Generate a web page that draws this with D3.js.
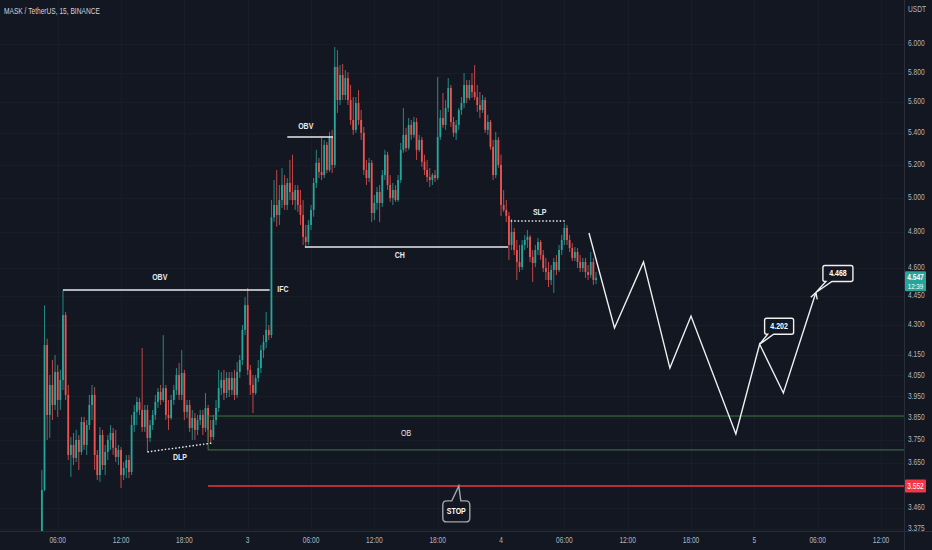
<!DOCTYPE html>
<html>
<head>
<meta charset="utf-8">
<script src="https://cdn.jsdelivr.net/npm/d3@7"></script>
<style>
    body { margin: 0; background: #131722; }
    svg { display: block; }
    text { font-family: "Liberation Sans", Arial, sans-serif; }
</style>
</head>
<body>
<svg id="chartSVG" width="932" height="550"></svg>
<script>
/* ---------- Data (15 minute candles, [open, high, low, close]) ---------- */
// day 2, from 04:30
const day2Candles = [
    [3.35,3.62,3.30,3.535],[3.535,4.40,3.53,4.198],[4.198,4.23,3.751,3.864],[3.864,4.052,3.76,4.004],
    [4.004,4.124,3.841,3.910],[3.910,4.149,3.887,4.066],[4.066,4.100,3.855,3.933],[3.933,4.076,3.887,4.028],
    [4.028,4.481,3.980,4.350],[4.350,4.366,3.933,3.957],[3.957,4.004,3.663,3.685],[3.685,3.764,3.590,3.729],
    [3.729,3.782,3.641,3.672],[3.672,3.796,3.654,3.751],[3.751,3.773,3.620,3.698],[3.698,3.855,3.685,3.832],
    [3.832,3.855,3.707,3.729],[3.729,3.841,3.685,3.818],[3.818,3.957,3.796,3.910],[3.910,4.004,3.841,3.957],
    [3.957,3.994,3.620,3.685],[3.685,3.707,3.577,3.598],[3.598,3.809,3.569,3.773],[3.773,3.796,3.620,3.641],
    [3.641,3.729,3.598,3.698],[3.698,3.773,3.663,3.751],[3.751,3.818,3.707,3.782],[3.782,3.805,3.685,3.716],
    [3.716,3.796,3.654,3.676],[3.676,3.729,3.641,3.707],[3.707,3.720,3.543,3.598],[3.598,3.654,3.577,3.628],
    [3.628,3.685,3.585,3.663],[3.663,3.685,3.585,3.611],[3.611,3.864,3.598,3.818],[3.818,3.910,3.787,3.878],
    [3.878,3.947,3.818,3.924],[3.924,3.943,3.864,3.887],[3.887,4.183,3.787,3.809],[3.809,3.910,3.787,3.887],
    [3.887,3.910,3.698,3.760],[3.760,3.841,3.742,3.818],[3.818,3.887,3.796,3.864],[3.864,3.957,3.841,3.924],
    [3.924,3.989,3.896,3.971],[3.971,4.004,3.910,3.933],[3.933,4.248,3.924,3.989],[3.989,4.004,3.841,3.864],
    [3.864,3.933,3.796,3.850],[3.850,3.957,3.841,3.933],[3.933,4.004,3.910,3.980],[3.980,4.085,3.957,4.052],
    [4.052,4.110,3.933,3.957],[3.957,4.173,3.933,4.061],[4.061,4.076,3.841,3.878],[3.878,3.933,3.850,3.910],
    [3.910,3.933,3.787,3.805],[3.805,3.887,3.751,3.850],[3.850,3.873,3.751,3.796],[3.796,3.864,3.773,3.841],
    [3.841,3.887,3.818,3.864],[3.864,3.887,3.773,3.805],[3.805,3.966,3.787,3.896],[3.896,3.910,3.742,3.796],
    [3.796,3.841,3.738,3.764],[3.764,3.864,3.751,3.841],[3.841,3.933,3.818,3.896],[3.896,4.076,3.878,3.989],
    [3.989,4.066,3.957,4.028],[4.028,4.076,3.933,3.966],[3.966,4.066,3.943,4.037],[4.037,4.066,3.947,3.980],
    [3.980,4.066,3.957,4.037],[4.037,4.076,3.933,3.957],[3.957,4.114,3.943,4.066],[4.066,4.149,4.037,4.124],
    [4.124,4.299,4.100,4.274],[4.274,4.444,4.248,4.402]
];
// day 3, from 00:00
const day3Candles = [
    [4.402,4.492,4.052,4.076],[4.076,4.100,3.957,4.004],[4.004,4.052,3.873,3.966],[3.966,4.052,3.957,4.037],
    [4.037,4.124,4.018,4.085],[4.085,4.198,4.061,4.173],[4.173,4.248,4.134,4.213],[4.213,4.366,4.183,4.274],
    [4.274,4.299,4.223,4.248],[4.248,4.986,4.233,4.884],[4.884,5.106,4.859,4.957],[4.957,5.167,4.831,4.898],
    [4.898,5.076,4.841,4.986],[4.986,5.179,4.940,5.076],[5.076,5.136,4.928,4.957],[4.957,5.118,4.928,5.088],
    [5.088,5.229,4.986,5.034],[5.034,5.261,4.957,4.986],[4.986,5.076,4.928,5.046],[5.046,5.076,4.916,4.957],
    [4.957,5.046,4.841,4.898],[4.898,4.986,4.727,4.773],[4.773,4.841,4.716,4.744],[4.744,4.869,4.727,4.841],
    [4.841,4.957,4.812,4.928],[4.928,5.118,4.888,5.088],[5.088,5.292,5.058,5.211],[5.211,5.242,5.118,5.155],
    [5.155,5.374,5.106,5.136],[5.136,5.355,5.118,5.323],[5.323,5.342,5.148,5.167],[5.167,5.406,5.155,5.374],
    [5.374,5.419,5.148,5.198],[5.198,5.979,5.180,5.839],[5.839,5.957,5.529,5.614],[5.614,5.852,5.581,5.783],
    [5.783,5.859,5.614,5.648],[5.648,5.817,5.614,5.762],[5.762,5.803,5.581,5.614],[5.614,5.715,5.451,5.483],
    [5.483,5.634,5.387,5.419],[5.419,5.634,5.400,5.594],[5.594,5.681,5.451,5.483],[5.483,5.548,5.355,5.400],
    [5.400,5.438,5.136,5.167],[5.167,5.229,5.076,5.118],[5.118,5.242,5.094,5.211],[5.211,5.229,4.857,4.910],
    [4.910,5.016,4.869,4.969],[4.969,5.064,4.928,5.034],[5.034,5.076,4.857,4.969],[4.969,5.167,4.946,5.136],
    [5.136,5.292,5.106,5.261],[5.261,5.280,5.046,5.076],[5.076,5.136,4.975,4.998],[4.998,5.088,4.957,5.046],
    [5.046,5.076,4.975,4.986],[4.986,5.136,4.975,5.106],[5.106,5.336,5.088,5.292],[5.292,5.561,5.273,5.387],
    [5.387,5.432,5.280,5.304],[5.304,5.496,5.292,5.451],[5.451,5.483,5.355,5.387],[5.387,5.503,5.368,5.470],
    [5.470,5.496,5.229,5.292],[5.292,5.387,5.280,5.355],[5.355,5.374,5.186,5.217],[5.217,5.261,5.136,5.167],
    [5.167,5.229,5.094,5.124],[5.124,5.179,5.064,5.106],[5.106,5.148,5.076,5.136],[5.136,5.167,5.094,5.118],
    [5.118,5.770,5.106,5.374],[5.374,5.548,5.355,5.496],[5.496,5.661,5.432,5.451],[5.451,5.614,5.419,5.561],
    [5.561,5.762,5.535,5.695],[5.695,5.715,5.438,5.470],[5.470,5.503,5.374,5.400],[5.400,5.483,5.355,5.451],
    [5.451,5.561,5.419,5.548],[5.548,5.634,5.516,5.594],[5.594,5.797,5.561,5.715],[5.715,5.749,5.594,5.628],
    [5.628,5.749,5.614,5.715],[5.715,5.797,5.628,5.668],[5.668,5.852,5.614,5.634],[5.634,5.715,5.535,5.581],
    [5.581,5.668,5.496,5.548],[5.548,5.648,5.529,5.614],[5.614,5.634,5.400,5.419],[5.419,5.516,5.387,5.470],
    [5.470,5.483,5.292,5.311],[5.311,5.355,5.106,5.136],[5.136,5.406,5.118,5.355],[5.355,5.374,5.180,5.198]
];
// day 4, from 00:00
const day4Candles = [
    [5.198,5.261,4.893,4.957],[4.957,5.046,4.916,4.928],[4.928,4.986,4.857,4.893],[4.893,4.916,4.644,4.727],
    [4.727,4.875,4.699,4.801],[4.801,4.824,4.671,4.699],[4.699,4.755,4.535,4.633],[4.633,4.727,4.578,4.605],
    [4.605,4.755,4.589,4.727],[4.727,4.784,4.699,4.755],[4.755,4.812,4.710,4.773],[4.773,4.784,4.633,4.660],
    [4.660,4.699,4.524,4.627],[4.627,4.727,4.605,4.699],[4.699,4.767,4.671,4.744],[4.744,4.755,4.644,4.671],
    [4.671,4.699,4.578,4.600],[4.600,4.655,4.535,4.578],[4.578,4.633,4.497,4.535],[4.535,4.616,4.508,4.589],
    [4.589,4.655,4.466,4.633],[4.633,4.671,4.562,4.589],[4.589,4.727,4.578,4.699],[4.699,4.784,4.671,4.755],
    [4.755,4.852,4.727,4.824],[4.824,4.841,4.727,4.755],[4.755,4.784,4.688,4.710],[4.710,4.738,4.638,4.655],
    [4.655,4.716,4.638,4.688],[4.688,4.710,4.600,4.633],[4.633,4.671,4.578,4.600],[4.600,4.655,4.578,4.633],
    [4.633,4.655,4.546,4.578],[4.578,4.616,4.535,4.562],[4.562,4.688,4.546,4.633],[4.633,4.655,4.508,4.535],
    [4.535,4.578,4.513,4.547]
];
const dayStarts = ["2022-01-02 04:30", "2022-01-03 00:00", "2022-01-04 00:00"];

const priceTicks = [6.000, 5.800, 5.600, 5.400, 5.200, 5.000, 4.800, 4.600, 4.450, 4.300,
                    4.150, 4.050, 3.950, 3.850, 3.750, 3.650, 3.460, 3.375];
const timeTickLabels = ["06:00", "12:00", "18:00", "3", "06:00", "12:00", "18:00", "4",
                        "06:00", "12:00", "18:00", "5", "06:00", "12:00"];
const timeTickStart = "2022-01-02 06:00";

// drawn forecast path
const pathTimes = ["2022-01-04 08:20", "2022-01-04 10:45", "2022-01-04 13:30", "2022-01-04 16:00",
                   "2022-01-04 18:00", "2022-01-04 22:15", "2022-01-05 00:30", "2022-01-05 02:45",
                   "2022-01-05 05:50"];
const pathPrices = [4.795, 4.284, 4.633, 4.085, 4.345, 3.778, 4.202, 3.966, 4.468];

const lastPrice = 4.547;
const lastCountdown = "12:39";
const stopPrice = 3.552;
const obTop = 3.859, obBottom = 3.707;

/* ---------- Layout ---------- */
const plotRight = 904, plotBottom = 531;
const narrow = 0.78; // horizontal squeeze of the chart's condensed UI font
const green = "#26a69a", red = "#ef5350";
const parseTime = d3.timeParse("%Y-%m-%d %H:%M");

var svg = d3.select("#chartSVG");
svg.append("rect").attr("width", 932).attr("height", 550).attr("fill", "#131722");

// put a condensed text at (x, y)
var condensedText = function(parent, x, y, txt) {
    return parent.append("text")
        .attr("transform", "translate(" + x + "," + y + ") scale(" + narrow + ",1)")
        .attr("dominant-baseline", "middle")
        .text(txt);
};

/* ---------- Scales ---------- */
var xScale = d3.scaleTime()
    .domain([parseTime("2022-01-02 06:00"), parseTime("2022-01-05 12:00")])
    .range([57.7, 881]);
var yScale = d3.scaleLog()
    .domain([3.375, 6.0])
    .range([529, 44]);

var tickTimes = timeTickLabels.map((d, i) => d3.timeHour.offset(parseTime(timeTickStart), 6 * i));

/* ---------- Grid ---------- */
var grid = svg.append("g").attr("stroke", "#191d28").attr("stroke-width", 1);
priceTicks.forEach(p => {
    grid.append("line").attr("x1", 0).attr("x2", plotRight)
        .attr("y1", Math.round(yScale(p)) + 0.5).attr("y2", Math.round(yScale(p)) + 0.5);
});
tickTimes.forEach(t => {
    grid.append("line").attr("y1", 0).attr("y2", plotBottom)
        .attr("x1", Math.round(xScale(t)) + 0.5).attr("x2", Math.round(xScale(t)) + 0.5);
});

svg.append("clipPath").attr("id", "plotClip")
    .append("rect").attr("x", 0).attr("y", 0).attr("width", plotRight).attr("height", plotBottom);

/* ---------- Candles ---------- */
var candles = [];
[day2Candles, day3Candles, day4Candles].forEach((day, k) => {
    var start = parseTime(dayStarts[k]);
    day.forEach((c, i) => {
        candles.push({ time: d3.timeMinute.offset(start, 15 * i), o: c[0], h: c[1], l: c[2], c: c[3] });
    });
});

var candleGroup = svg.append("g").attr("clip-path", "url(#plotClip)");
candles.forEach(d => {
    var x = xScale(d.time);
    var colour = d.c >= d.o ? green : red;
    candleGroup.append("line")
        .attr("x1", x).attr("x2", x)
        .attr("y1", yScale(d.h)).attr("y2", yScale(d.l))
        .attr("stroke", colour).attr("stroke-width", 0.8);
    var top = yScale(Math.max(d.o, d.c)), bottom = yScale(Math.min(d.o, d.c));
    candleGroup.append("rect")
        .attr("x", x - 0.9).attr("width", 1.8)
        .attr("y", top).attr("height", Math.max(0.8, bottom - top))
        .attr("fill", colour);
});

/* ---------- Annotations ---------- */
var ann = svg.append("g").attr("clip-path", "url(#plotClip)");

var hLine = function(t1, t2, price, dashed, colour, width) {
    var l = ann.append("line")
        .attr("x1", typeof t1 === "number" ? t1 : xScale(parseTime(t1)))
        .attr("x2", typeof t2 === "number" ? t2 : xScale(parseTime(t2)))
        .attr("y1", yScale(price)).attr("y2", yScale(price))
        .attr("stroke", colour).attr("stroke-width", width);
    if (dashed) l.attr("stroke-dasharray", "1.5,2");
    return l;
};
var label = function(t, price, txt, weight) {
    condensedText(ann, xScale(parseTime(t)), yScale(price), txt)
        .attr("text-anchor", "middle")
        .attr("fill", "#e9eaee").attr("font-size", 9).attr("font-weight", weight || "bold");
};

// order block
ann.append("rect")
    .attr("x", xScale(parseTime("2022-01-02 20:15"))).attr("width", plotRight + 5)
    .attr("y", yScale(obTop)).attr("height", yScale(obBottom) - yScale(obTop))
    .attr("fill", "none").attr("stroke", "#3d7a45").attr("stroke-width", 1);
label("2022-01-03 15:00", 3.778, "OB", "normal");

// stop line
hLine("2022-01-02 20:15", plotRight, stopPrice, false, "#f23645", 1.5);

hLine("2022-01-02 06:30", "2022-01-03 02:05", 4.481, false, "#e9eaee", 1.5);
label("2022-01-02 15:40", 4.548, "OBV");
label("2022-01-03 03:20", 4.481, "IFC");

hLine("2022-01-03 03:45", "2022-01-03 08:05", 5.374, false, "#e9eaee", 1.5);
label("2022-01-03 05:30", 5.438, "OBV");

hLine("2022-01-03 05:25", "2022-01-04 00:40", 4.716, false, "#e9eaee", 1.5);
label("2022-01-03 14:25", 4.666, "CH");

hLine("2022-01-04 00:55", "2022-01-04 06:05", 4.863, true, "#e9eaee", 1.5);
label("2022-01-04 03:40", 4.910, "SLP");

ann.append("line")
    .attr("x1", xScale(parseTime("2022-01-02 14:30"))).attr("y1", yScale(3.698))
    .attr("x2", xScale(parseTime("2022-01-02 20:45"))).attr("y2", yScale(3.738))
    .attr("stroke", "#e9eaee").attr("stroke-width", 1.5).attr("stroke-dasharray", "1.5,2");
label("2022-01-02 17:35", 3.672, "DLP");

/* ---------- Forecast path ---------- */
var pathPoints = pathTimes.map((t, i) => [xScale(parseTime(t)), yScale(pathPrices[i])]);
ann.append("path")
    .attr("d", d3.line()(pathPoints))
    .attr("fill", "none").attr("stroke", "#f0f0f0").attr("stroke-width", 1.4)
    .attr("stroke-linejoin", "miter");
var tip = pathPoints[pathPoints.length - 1], prev = pathPoints[pathPoints.length - 2];
var angle = Math.atan2(tip[1] - prev[1], tip[0] - prev[0]);
[0.5, -0.5].forEach(a => {
    ann.append("line")
        .attr("x1", tip[0]).attr("y1", tip[1])
        .attr("x2", tip[0] - 7 * Math.cos(angle + a)).attr("y2", tip[1] - 7 * Math.sin(angle + a))
        .attr("stroke", "#f0f0f0").attr("stroke-width", 1.4);
});

/* ---------- Callouts ---------- */
var calloutPath = function(bx, by, bw, bh, r, t1, t2, ax, ay, side) {
    var p = d3.path();
    p.moveTo(bx + r, by);
    if (side === "top") { p.lineTo(t1, by); p.lineTo(ax, ay); p.lineTo(t2, by); }
    p.lineTo(bx + bw - r, by);
    p.quadraticCurveTo(bx + bw, by, bx + bw, by + r);
    p.lineTo(bx + bw, by + bh - r);
    p.quadraticCurveTo(bx + bw, by + bh, bx + bw - r, by + bh);
    if (side === "bottom") { p.lineTo(t2, by + bh); p.lineTo(ax, ay); p.lineTo(t1, by + bh); }
    p.lineTo(bx + r, by + bh);
    p.quadraticCurveTo(bx, by + bh, bx, by + bh - r);
    p.lineTo(bx, by + r);
    p.quadraticCurveTo(bx, by, bx + r, by);
    p.closePath();
    return p.toString();
};
var callout = function(t, price, txt, dx, dy, w, h, r, tail, side, stroke) {
    var ax = xScale(parseTime(t)), ay = yScale(price);
    var bx = ax + dx, by = ay + dy;
    ann.append("path")
        .attr("d", calloutPath(bx, by, w, h, r, bx + tail[0], bx + tail[1], ax, ay, side))
        .attr("fill", "#131722").attr("stroke", stroke).attr("stroke-width", 1.4);
    condensedText(ann, bx + w / 2, by + h / 2 + 0.5, txt)
        .attr("text-anchor", "middle")
        .attr("fill", "#ffffff").attr("font-size", 9).attr("font-weight", "bold");
};
callout("2022-01-05 00:30", 4.202, "4.202", 5, -26, 29, 16, 2, [3, 9], "bottom", "#f0f0f0");
callout("2022-01-05 05:50", 4.468, "4.468", 7, -27, 30, 16, 2, [3, 9], "bottom", "#f0f0f0");
callout("2022-01-03 20:00", stopPrice, "STOP", -16, 15, 27, 21, 4, [9, 18], "top", "#a3a6af");

/* ---------- Borders ---------- */
svg.append("line").attr("x1", plotRight + 0.5).attr("x2", plotRight + 0.5).attr("y1", 0).attr("y2", 550)
    .attr("stroke", "#2a2e39");
svg.append("line").attr("x1", 0).attr("x2", 932).attr("y1", plotBottom + 0.5).attr("y2", plotBottom + 0.5)
    .attr("stroke", "#2a2e39");

/* ---------- Axis labels ---------- */
var axisText = svg.append("g").attr("fill", "#b2b5be").attr("font-size", 8.5);
priceTicks.forEach(p => {
    condensedText(axisText, 908, yScale(p), d3.format(".3f")(p));
});
tickTimes.forEach((t, i) => {
    condensedText(axisText, xScale(t), 541, timeTickLabels[i]).attr("text-anchor", "middle");
});
condensedText(axisText, 908, 10, "USDT");

// last price tag
var lastY = yScale(lastPrice);
svg.append("rect").attr("x", 905).attr("y", lastY - 6.5).attr("width", 21).attr("height", 20)
    .attr("fill", green).attr("rx", 1);
condensedText(svg, 915.5, lastY + 0.5, d3.format(".3f")(lastPrice))
    .attr("text-anchor", "middle").attr("fill", "#ffffff").attr("font-size", 8.5)
    .attr("font-weight", "bold");
condensedText(svg, 915.5, lastY + 9, lastCountdown)
    .attr("text-anchor", "middle").attr("fill", "#ffffff").attr("font-size", 8);

// stop price tag
var stopY = yScale(stopPrice);
svg.append("rect").attr("x", 905).attr("y", stopY - 6.5).attr("width", 21).attr("height", 13)
    .attr("fill", "#f23645").attr("rx", 1);
condensedText(svg, 915.5, stopY + 0.5, d3.format(".3f")(stopPrice))
    .attr("text-anchor", "middle").attr("fill", "#ffffff").attr("font-size", 8.5);

/* ---------- Title ---------- */
condensedText(svg, 4, 12, "MASK / TetherUS, 15, BINANCE")
    .attr("fill", "#d1d4dc").attr("font-size", 8.5);
</script>
</body>
</html>
